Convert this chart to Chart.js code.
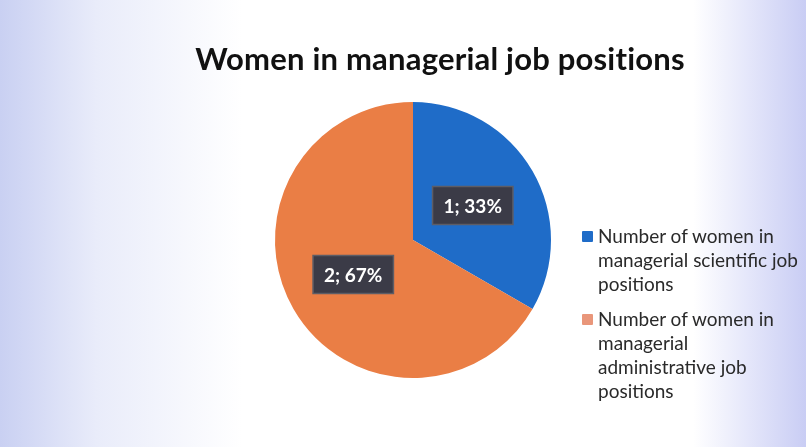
<!DOCTYPE html>
<html>
<head>
<meta charset="utf-8">
<script src="https://cdn.jsdelivr.net/npm/chart.js@4"></script>
<style>
  html, body { margin:0; padding:0; }
  body { width:806px; height:447px; position:relative; overflow:hidden;
    background: linear-gradient(to right, #c9d0f2 0%, #e9ecfa 12%, #ffffff 30%, #ffffff 86%, #e4e6fa 93%, #c9cdf4 100%); }
  #title { position:absolute; left:0; width:880px; top:39px; text-align:center;
    font-family: Lato, "Open Sans", sans-serif; font-weight:700; font-size:31px; color:#111; letter-spacing:0.2px; }
  #legend { position:absolute; left:580px; top:224px; width:226px;
    font-family: Lato, "Open Sans", sans-serif; font-size:19px; color:#2a2a2a; line-height:24px; }
  .item { position:relative; padding-left:18px; margin-bottom:11px; white-space:nowrap; }
  .sw { position:absolute; left:2px; top:7px; width:11px; height:11px; border-radius:1px; }
  #c { position:absolute; left:0; top:0; }
</style>
</head>
<body>
<canvas id="c" width="806" height="447"></canvas>
<div id="title"></div>
<div id="legend"></div>
<script>
const titleText = "Women in managerial job positions";
const categories = ["Number of women in managerial scientific job positions",
                    "Number of women in managerial administrative job positions"];
const legendLines = [["Number of women in", "managerial scientific job", "positions"],
                     ["Number of women in", "managerial", "administrative job", "positions"]];
const values = [1, 2];
const percents = [33, 67];
const colors = ["#1f6cc8", "#ea7e45"];
const legendColors = ["#1f6cc8", "#e9967a"];

document.getElementById('title').textContent = titleText;
const lg = document.getElementById('legend');
legendLines.forEach((lines, i) => {
  const d = document.createElement('div'); d.className = 'item';
  const s = document.createElement('span'); s.className = 'sw'; s.style.background = legendColors[i];
  d.appendChild(s);
  lines.forEach((l, j) => { d.appendChild(document.createTextNode(l)); if (j < lines.length-1) d.appendChild(document.createElement('br')); });
  lg.appendChild(d);
});

const labelPlugin = {
  id: 'boxLabels',
  afterDatasetsDraw(chart) {
    const ctx = chart.ctx;
    const meta = chart.getDatasetMeta(0);
    ctx.save();
    ctx.font = "bold 19px Lato, 'Open Sans', sans-serif";
    ctx.textAlign = 'center'; ctx.textBaseline = 'middle';
    meta.data.forEach((arc, i) => {
      const p = arc.tooltipPosition();
      const txt = values[i] + "; " + percents[i] + "%";
      const w = ctx.measureText(txt).width + 22, h = 38;
      const x = p.x, y = p.y;
      ctx.fillStyle = '#3b3b47';
      ctx.strokeStyle = '#5d5d66'; ctx.lineWidth = 1.5;
      ctx.fillRect(x - w/2, y - h/2, w, h);
      ctx.strokeRect(x - w/2, y - h/2, w, h);
      ctx.fillStyle = '#ffffff';
      ctx.fillText(txt, x, y + 1);
    });
    ctx.restore();
  }
};

new Chart(document.getElementById('c'), {
  type: 'pie',
  data: { labels: categories, datasets: [{ data: values, backgroundColor: colors, borderWidth: 0 }] },
  options: {
    responsive: false, animation: false,
    layout: { padding: { left: 275, right: 255, top: 102, bottom: 69 } },
    plugins: { legend: { display: false }, tooltip: { enabled: false }, title: { display: false } }
  },
  plugins: [labelPlugin]
});
</script>
</body>
</html>
